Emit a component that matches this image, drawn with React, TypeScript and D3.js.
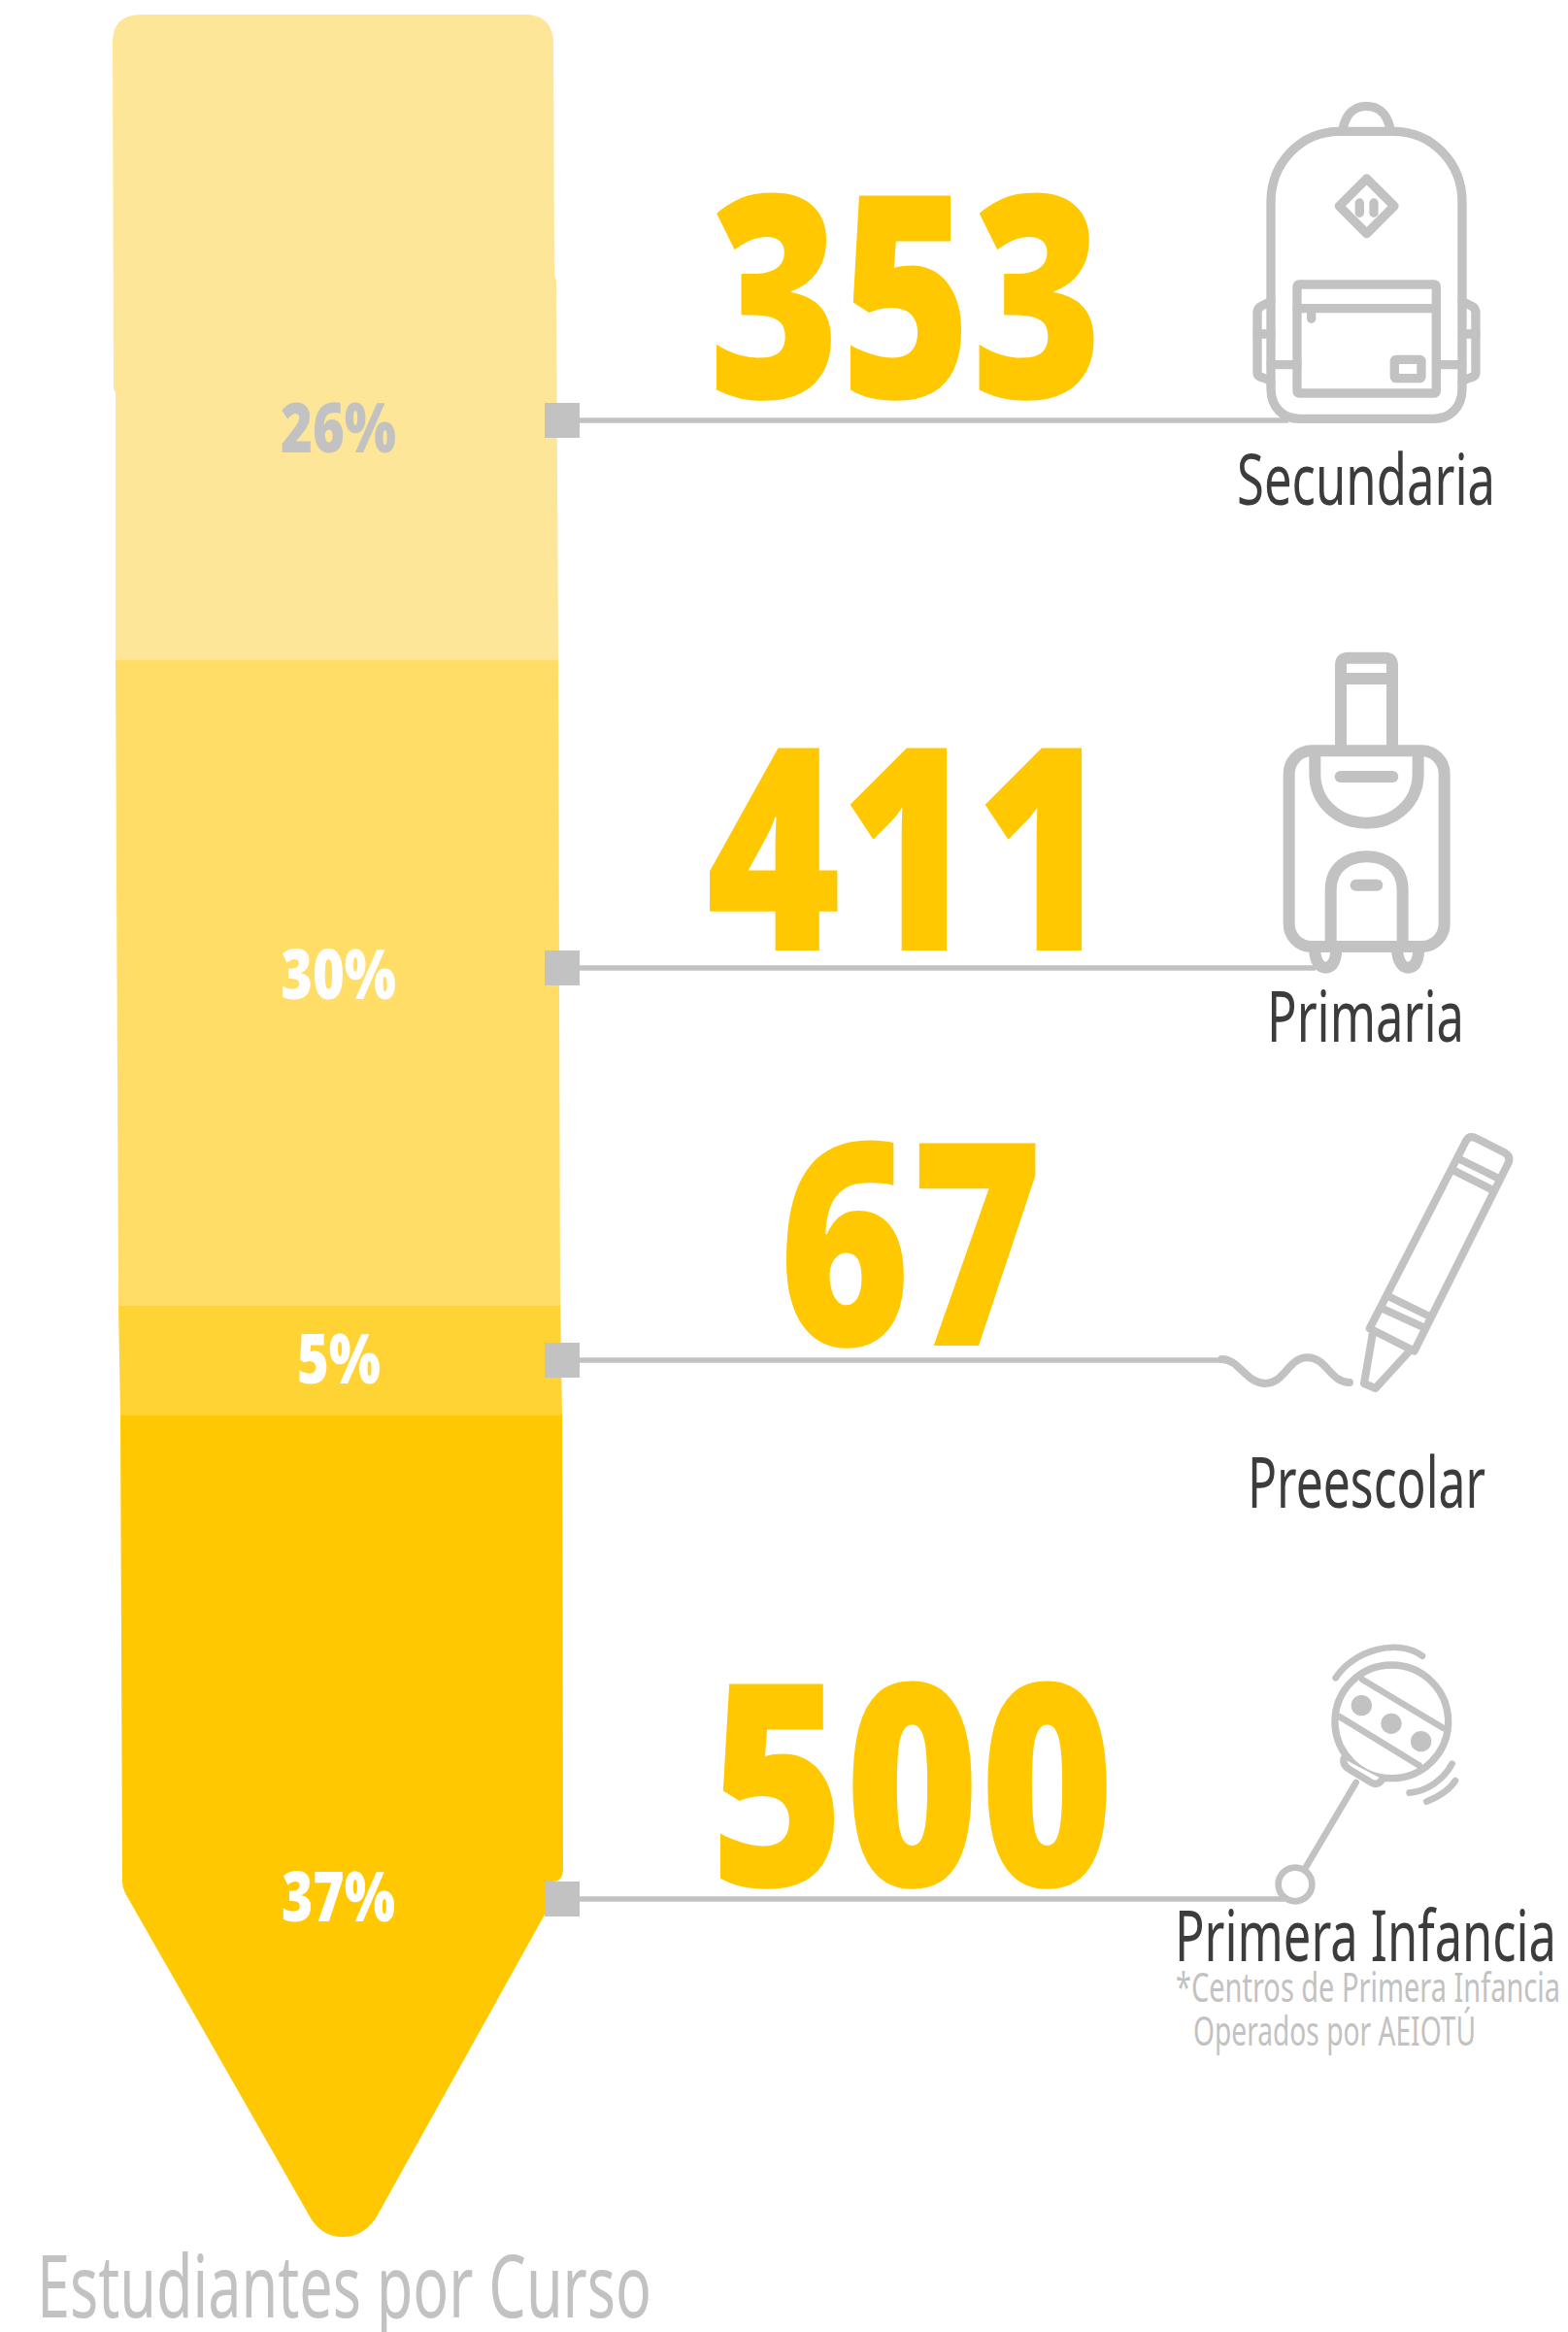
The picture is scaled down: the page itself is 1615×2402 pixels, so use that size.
import React from "react";
import * as d3 from "d3";

const levels = ["Secundaria", "Primaria", "Preescolar", "Primera Infancia"];
const students = [353, 411, 67, 500];
const percents = [26, 30, 5, 37];

const GREY = "#c2c2c2";
const DARK = "#3c3c3b";
const BOLD = "'Open Sans', sans-serif";
const TEXT = "'Noto Sans', sans-serif";

const segmentColors = ["#fee698", "#ffdd66", "#ffd333", "#ffc800"];

// cumulative percent to page y: the shaft does not scale evenly in the source
const cumulative = d3.cumsum(percents);
const yScale = d3
  .scaleLinear()
  .domain([0, ...cumulative])
  .range([15, 680, 1345, 1458, 2304]);

const mids = percents.map((p, i) => cumulative[i] - p / 2);
const markerY = d3.scaleLinear().domain(mids).range([433, 997, 1401, 1956]);

const numberLayout = [
  { x: 730, w: 406, base: 410 },
  { x: 727, w: 417, base: 979 },
  { x: 802, w: 272, base: 1386 },
  { x: 731, w: 417, base: 1943 },
];
const pctLayout = [
  { x: 289, w: 119, base: 466 },
  { x: 289, w: 119, base: 1029 },
  { x: 306, w: 86, base: 1425 },
  { x: 290, w: 117, base: 1979 },
];
const labelLayout = [
  { x: 1274, w: 266, base: 520 },
  { x: 1305, w: 203, base: 1073 },
  { x: 1285, w: 245, base: 1553 },
  { x: 1210, w: 393, base: 2020 },
];
const leaderEnd = [1327, 1355, 1262, 1323];

const shaft =
  "M116,43 Q116,15 146,15 L545,15 Q570,18 570,45 L571,283 L573,290 L575,680 L577,1345 L579,1458 L580,1925 Q580,1937 570,1938 L561,1972 L388,2283 Q375,2304 353,2304 Q331,2304 319,2283 L129,1950 Q126,1944 126,1938 L124,1458 L122,1345 L119,680 L119,405 L117,400 Z";

function Backpack() {
  return (
    <g transform="translate(1240,80) scale(0.3333)" fill="none" stroke={GREY} strokeWidth={28} strokeLinejoin="round" strokeLinecap="round">
      <path d="M430,155 C440,108 470,88 502,88 C535,88 565,108 575,155" />
      <path d="M207,880 L207,385 C207,262 300,166 420,166 L585,166 C705,166 798,262 798,385 L798,960 C798,1020 760,1054 710,1054 L295,1054 C245,1054 207,1020 207,960 Z" />
      <rect x={288} y={639} width={430} height={336} rx={6} />
      <path d="M288,713 L718,713" />
      <path d="M332,730 L332,745" />
      <rect x={589} y={871} width={83} height={58} rx={5} />
      <path d="M503,312 L588,397 L503,482 L418,397 Z" />
      <path d="M481,387 L481,418 M525,387 L525,418" />
      <path d="M207,690 C195,703 165,700 165,728 L165,912 C165,930 195,925 207,940" />
      <path d="M798,690 C810,703 840,700 840,728 L840,912 C840,930 810,925 798,940" />
      <path d="M165,792 L207,792 M798,792 L840,792" />
      <path d="M207,887 L288,887 M718,887 L798,887" />
    </g>
  );
}

function Suitcase() {
  return (
    <g transform="translate(1260,650) scale(0.3333)" fill="none" stroke={GREY} strokeWidth={36} strokeLinejoin="round" strokeLinecap="round">
      <path d="M363,360 L363,105 Q363,83 385,83 L500,83 Q522,83 522,105 L522,360" />
      <path d="M363,147 L522,147" />
      <rect x={203} y={370} width={480} height={605} rx={70} />
      <path d="M283,375 L283,440 C283,530 355,593 443,593 C530,593 602,530 602,440 L602,375" />
      <path d="M362,450 L523,450" />
      <path d="M332,970 L332,800 C332,730 385,697 443,697 C500,697 554,730 554,800 L554,970" />
      <path d="M410,785 L475,785" />
      <path d="M282,985 C285,1025 300,1040 315,1040 C335,1040 347,1025 349,985" />
      <path d="M537,985 C540,1025 555,1040 570,1040 C590,1040 602,1025 604,985" />
    </g>
  );
}

function Crayon() {
  return (
    <g transform="translate(1240,1150) scale(0.3333)" fill="none" stroke={GREY} strokeWidth={24} strokeLinejoin="round" strokeLinecap="round">
      <path d="M55,750 C110,750 130,825 190,825 C250,825 260,745 320,745 C380,745 390,822 450,822" />
      <path d="M810,75 Q820,58 838,66 L930,112 Q950,125 940,145 L650,725 L512,655 Z" />
      <path d="M790,132 L908,190 M772,167 L890,226" />
      <path d="M575,558 L692,615 M555,595 L675,650" />
      <path d="M522,668 L495,825 L530,840 L638,722" />
    </g>
  );
}

function Rattle() {
  return (
    <g transform="translate(1200,1670) scale(0.3333)" fill="none" stroke={GREY} strokeWidth={22} strokeLinejoin="round" strokeLinecap="round">
      <circle cx={700} cy={310} r={175} />
      <path d="M610,180 L860,330 M540,295 L785,445" strokeWidth={20} />
      <circle cx={607} cy={260} r={32} fill={GREY} stroke="none" />
      <circle cx={699} cy={316} r={32} fill={GREY} stroke="none" />
      <circle cx={791} cy={371} r={32} fill={GREY} stroke="none" />
      <path d="M552,425 Q548,445 570,458 L640,500 Q658,508 672,488" fill="#fff" />
      <path d="M590,498 L435,760" strokeWidth={20} />
      <circle cx={402} cy={813} r={52} strokeWidth={20} />
      <path d="M527,175 C580,90 720,50 795,107" strokeWidth={20} />
      <path d="M755,530 C810,525 860,490 887,440" strokeWidth={20} />
      <path d="M808,557 C850,540 880,520 897,492" strokeWidth={20} />
    </g>
  );
}

function FitText({ x, y, w, size, fill, weight, font, children }: any) {
  return (
    <text x={x} y={y} textLength={w} lengthAdjust="spacingAndGlyphs" fontSize={size} fill={fill} fontWeight={weight} fontFamily={font}>
      {children}
    </text>
  );
}

export default function App() {
  return (
    <svg width={1615} height={2402} style={{ position: "absolute", left: 0, top: 0, display: "block", background: "#fff" }}>
      <defs>
        <clipPath id="shaft">
          <path d={shaft} />
        </clipPath>
      </defs>

      <g clipPath="url(#shaft)">
        {percents.map((p, i) => (
          <rect
            key={levels[i]}
            x={100}
            y={yScale(i === 0 ? 0 : cumulative[i - 1])}
            width={500}
            height={yScale(cumulative[i]) - yScale(i === 0 ? 0 : cumulative[i - 1])}
            fill={segmentColors[i]}
          />
        ))}
      </g>

      {percents.map((p, i) => (
        <g key={levels[i]}>
          <line x1={590} x2={leaderEnd[i]} y1={markerY(mids[i])} y2={markerY(mids[i])} stroke={GREY} strokeWidth={5.5} />
          <rect x={561} y={markerY(mids[i]) - 18} width={36} height={36} fill={GREY} />
          <FitText x={pctLayout[i].x} y={pctLayout[i].base} w={pctLayout[i].w} size={70} weight={800} font={BOLD} fill={i === 0 ? GREY : "#fff"}>
            {p}%
          </FitText>
          <FitText x={numberLayout[i].x} y={numberLayout[i].base} w={numberLayout[i].w} size={292} weight={800} font={BOLD} fill="#ffc800">
            {students[i]}
          </FitText>
          <FitText x={labelLayout[i].x} y={labelLayout[i].base} w={labelLayout[i].w} size={73} weight={400} font={TEXT} fill={DARK}>
            {levels[i]}
          </FitText>
        </g>
      ))}

      <Backpack />
      <Suitcase />
      <Crayon />
      <Rattle />

      <FitText x={1211} y={2062} w={396} size={42} weight={400} font={TEXT} fill={GREY}>
        *Centros de Primera Infancia
      </FitText>
      <FitText x={1229} y={2107} w={291} size={42} weight={400} font={TEXT} fill={GREY}>
        Operados por AEIOTÚ
      </FitText>
      <FitText x={38} y={2387} w={633} size={90} weight={400} font={TEXT} fill={GREY}>
        Estudiantes por Curso
      </FitText>
    </svg>
  );
}
